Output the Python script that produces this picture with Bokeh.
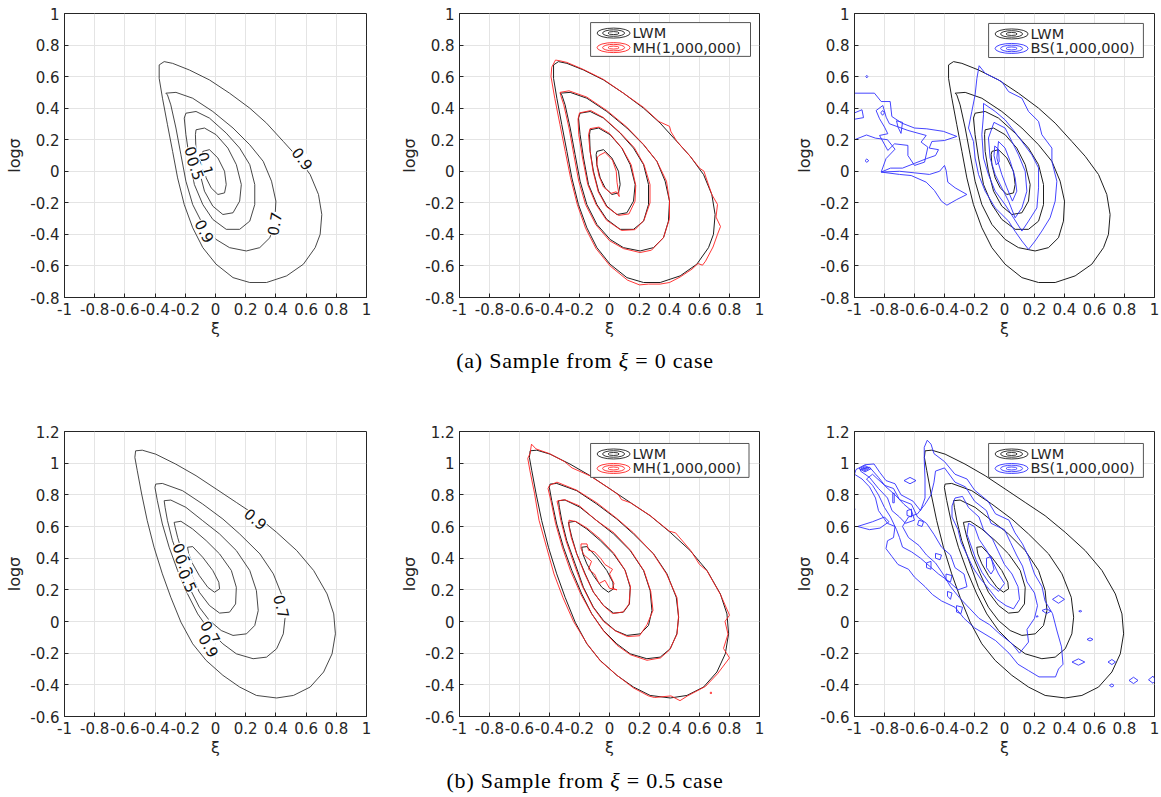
from bokeh.plotting import figure
from bokeh.layouts import row, column
from bokeh.models import FixedTicker, Label, Div
from bokeh.embed import file_html
from bokeh.resources import INLINE
from bokeh.core.properties import value

# ---------------- ticks ----------------
x_ticks = [-1, -0.8, -0.6, -0.4, -0.2, 0, 0.2, 0.4, 0.6, 0.8, 1]
x_tick_labels = ["-1", "-0.8", "-0.6", "-0.4", "-0.2", "0", "0.2", "0.4", "0.6", "0.8", "1"]
y_ticks_a = [-0.8, -0.6, -0.4, -0.2, 0, 0.2, 0.4, 0.6, 0.8, 1]
y_tick_labels_a = ["-0.8", "-0.6", "-0.4", "-0.2", "0", "0.2", "0.4", "0.6", "0.8", "1"]
y_ticks_b = [-0.6, -0.4, -0.2, 0, 0.2, 0.4, 0.6, 0.8, 1, 1.2]
y_tick_labels_b = ["-0.6", "-0.4", "-0.2", "0", "0.2", "0.4", "0.6", "0.8", "1", "1.2"]

captions = ["(a) Sample from <i>ξ</i> = 0 case", "(b) Sample from <i>ξ</i> = 0.5 case"]
legend_names = ["LWM", "MH(1,000,000)", "BS(1,000,000)"]

# ---------------- LWM contours, xi = 0 case (levels 0.9 .. 0.1) ----------------
lwm_a_09 = [(-0.373,0.674),(-0.34,0.695),(-0.284,0.684),(-0.173,0.642),(-0.04,0.579),(0.093,0.495),(0.227,0.40),(0.338,0.305),(0.449,0.189),(0.538,0.095),(0.627,-0.021),(0.682,-0.147),(0.704,-0.274),(0.693,-0.40),(0.66,-0.484),(0.582,-0.589),(0.471,-0.663),(0.338,-0.705),(0.227,-0.705),(0.116,-0.674),(0.004,-0.589),(-0.084,-0.484),(-0.151,-0.358),(-0.207,-0.211),(-0.251,-0.042),(-0.284,0.126),(-0.318,0.295),(-0.351,0.463),(-0.373,0.589)]
lwm_a_07 = [(-0.329,0.495),(-0.262,0.50),(-0.151,0.463),(-0.018,0.379),(0.116,0.274),(0.227,0.168),(0.316,0.063),(0.371,-0.063),(0.40,-0.189),(0.393,-0.316),(0.36,-0.421),(0.293,-0.484),(0.204,-0.505),(0.093,-0.484),(0.004,-0.432),(-0.084,-0.337),(-0.151,-0.211),(-0.196,-0.063),(-0.229,0.105),(-0.262,0.274),(-0.296,0.421),(-0.318,0.484)]
lwm_a_05 = [(-0.196,0.368),(-0.129,0.379),(-0.04,0.337),(0.071,0.242),(0.16,0.147),(0.227,0.042),(0.26,-0.084),(0.26,-0.211),(0.227,-0.316),(0.16,-0.368),(0.071,-0.368),(-0.018,-0.305),(-0.084,-0.211),(-0.14,-0.084),(-0.173,0.084),(-0.196,0.232),(-0.207,0.337)]
lwm_a_03 = [(-0.129,0.263),(-0.073,0.274),(0.004,0.232),(0.082,0.147),(0.138,0.042),(0.171,-0.084),(0.16,-0.189),(0.116,-0.263),(0.049,-0.274),(-0.018,-0.221),(-0.073,-0.126),(-0.107,0.0),(-0.129,0.126),(-0.133,0.232)]
lwm_a_01 = [(-0.084,0.126),(-0.04,0.137),(0.016,0.084),(0.06,0.0),(0.071,-0.084),(0.06,-0.137),(0.016,-0.147),(-0.029,-0.105),(-0.062,-0.042),(-0.084,0.042),(-0.089,0.105)]

# ---------------- LWM contours, xi = 0.5 case ----------------
lwm_b_09 = [(-0.529,1.078),(-0.485,1.082),(-0.396,1.057),(-0.263,0.994),(-0.129,0.921),(0.004,0.837),(0.138,0.752),(0.271,0.668),(0.405,0.563),(0.538,0.448),(0.65,0.322),(0.739,0.174),(0.783,0.048),(0.794,-0.078),(0.772,-0.204),(0.716,-0.319),(0.627,-0.414),(0.516,-0.467),(0.405,-0.483),(0.271,-0.467),(0.16,-0.414),(0.049,-0.34),(-0.062,-0.246),(-0.151,-0.141),(-0.229,-0.004),(-0.296,0.153),(-0.352,0.301),(-0.407,0.469),(-0.452,0.637),(-0.489,0.805),(-0.518,0.952),(-0.534,1.036)]
lwm_b_07 = [(-0.396,0.868),(-0.352,0.872),(-0.218,0.826),(-0.085,0.742),(0.049,0.647),(0.16,0.553),(0.294,0.427),(0.383,0.301),(0.445,0.153),(0.461,0.027),(0.449,-0.078),(0.405,-0.172),(0.338,-0.225),(0.249,-0.235),(0.138,-0.204),(0.049,-0.141),(-0.04,-0.057),(-0.118,0.048),(-0.185,0.174),(-0.251,0.322),(-0.307,0.469),(-0.352,0.616),(-0.385,0.763),(-0.401,0.847)]
lwm_b_05 = [(-0.34,0.763),(-0.296,0.767),(-0.196,0.721),(-0.085,0.637),(0.027,0.553),(0.138,0.448),(0.227,0.322),(0.271,0.195),(0.283,0.069),(0.26,-0.025),(0.205,-0.078),(0.116,-0.088),(0.038,-0.057),(-0.04,0.006),(-0.107,0.09),(-0.174,0.216),(-0.229,0.364),(-0.285,0.511),(-0.318,0.637),(-0.334,0.721)]
lwm_b_03 = [(-0.274,0.626),(-0.229,0.633),(-0.151,0.584),(-0.062,0.511),(0.027,0.427),(0.105,0.322),(0.138,0.216),(0.133,0.111),(0.093,0.059),(0.027,0.053),(-0.04,0.101),(-0.107,0.185),(-0.162,0.301),(-0.218,0.427),(-0.251,0.532),(-0.267,0.595)]
lwm_b_01 = [(-0.185,0.469),(-0.151,0.473),(-0.085,0.406),(-0.018,0.322),(0.022,0.248),(0.027,0.206),(-0.007,0.185),(-0.051,0.216),(-0.107,0.29),(-0.151,0.364),(-0.178,0.427)]

# ---------------- MH(1,000,000) contours ----------------
mh_a_09 = [(-0.385,0.66),(-0.36,0.705),(-0.33,0.70),(-0.284,0.69),(-0.173,0.645),(-0.04,0.582),(0.093,0.495),(0.227,0.405),(0.33,0.315),(0.40,0.285),(0.41,0.25),(0.449,0.19),(0.538,0.095),(0.60,0.02),(0.63,0.0),(0.64,-0.03),(0.682,-0.147),(0.72,-0.21),(0.71,-0.29),(0.74,-0.35),(0.72,-0.40),(0.69,-0.48),(0.64,-0.57),(0.62,-0.595),(0.59,-0.585),(0.55,-0.62),(0.471,-0.67),(0.40,-0.705),(0.338,-0.715),(0.26,-0.715),(0.20,-0.72),(0.12,-0.69),(0.004,-0.60),(-0.09,-0.49),(-0.16,-0.36),(-0.215,-0.21),(-0.26,-0.04),(-0.295,0.126),(-0.33,0.295),(-0.365,0.463),(-0.39,0.60)]
mh_a_07 = [(-0.33,0.50),(-0.27,0.51),(-0.151,0.47),(-0.018,0.385),(0.116,0.28),(0.227,0.17),(0.316,0.063),(0.38,-0.063),(0.40,-0.189),(0.40,-0.30),(0.36,-0.42),(0.28,-0.50),(0.204,-0.515),(0.093,-0.49),(0.0,-0.44),(-0.09,-0.34),(-0.16,-0.21),(-0.205,-0.063),(-0.238,0.105),(-0.27,0.274),(-0.305,0.421),(-0.325,0.48)]
mh_a_05 = [(-0.20,0.37),(-0.125,0.385),(-0.04,0.34),(0.071,0.245),(0.165,0.15),(0.23,0.042),(0.27,-0.084),(0.27,-0.20),(0.23,-0.31),(0.17,-0.37),(0.08,-0.375),(-0.02,-0.31),(-0.09,-0.21),(-0.145,-0.084),(-0.18,0.084),(-0.205,0.232),(-0.21,0.33)]
mh_a_03 = [(-0.13,0.27),(-0.07,0.28),(0.0,0.24),(0.085,0.145),(0.145,0.04),(0.175,-0.09),(0.17,-0.19),(0.13,-0.27),(0.06,-0.28),(-0.02,-0.225),(-0.075,-0.13),(-0.11,0.0),(-0.13,0.13),(-0.14,0.23)]
mh_a_01 = [(-0.07,0.10),(-0.03,0.12),(0.02,0.07),(0.045,0.0),(0.05,-0.07),(0.065,-0.16),(0.045,-0.13),(0.01,-0.14),(-0.04,-0.10),(-0.07,-0.03),(-0.085,0.04),(-0.08,0.09)]

mh_b_09 = [(-0.53,1.06),(-0.52,1.12),(-0.49,1.09),(-0.40,1.06),(-0.30,1.01),(-0.25,0.97),(-0.13,0.92),(0.00,0.84),(0.06,0.80),(0.08,0.77),(0.14,0.75),(0.27,0.67),(0.40,0.57),(0.44,0.56),(0.54,0.45),(0.60,0.36),(0.65,0.32),(0.74,0.17),(0.80,0.04),(0.77,0.00),(0.79,-0.08),(0.76,-0.17),(0.80,-0.23),(0.72,-0.33),(0.64,-0.41),(0.52,-0.47),(0.47,-0.50),(0.41,-0.47),(0.30,-0.48),(0.26,-0.47),(0.16,-0.42),(0.05,-0.34),(-0.06,-0.25),(-0.15,-0.14),(-0.24,0.00),(-0.31,0.15),(-0.37,0.30),(-0.42,0.47),(-0.47,0.64),(-0.50,0.81),(-0.53,0.95),(-0.545,1.03)]
mh_b_07 = [(-0.40,0.86),(-0.35,0.88),(-0.22,0.83),(-0.085,0.75),(0.05,0.65),(0.16,0.56),(0.29,0.43),(0.38,0.30),(0.45,0.15),(0.46,0.03),(0.45,-0.08),(0.40,-0.18),(0.34,-0.23),(0.25,-0.245),(0.14,-0.21),(0.05,-0.15),(-0.04,-0.06),(-0.12,0.05),(-0.19,0.17),(-0.26,0.32),(-0.315,0.47),(-0.36,0.62),(-0.39,0.76),(-0.41,0.84)]
mh_b_05 = [(-0.35,0.76),(-0.30,0.77),(-0.20,0.73),(-0.09,0.64),(0.03,0.56),(0.14,0.45),(0.23,0.32),(0.275,0.19),(0.29,0.07),(0.25,-0.02),(0.20,-0.09),(0.12,-0.095),(0.04,-0.06),(-0.04,0.0),(-0.11,0.09),(-0.18,0.22),(-0.235,0.36),(-0.29,0.51),(-0.325,0.64),(-0.34,0.72)]
mh_b_03 = [(-0.27,0.64),(-0.22,0.63),(-0.15,0.59),(-0.06,0.52),(0.03,0.43),(0.10,0.33),(0.14,0.22),(0.13,0.11),(0.09,0.06),(0.02,0.05),(-0.04,0.10),(-0.11,0.19),(-0.165,0.30),(-0.22,0.43),(-0.255,0.53),(-0.27,0.60)]
mh_b_01 = [(-0.19,0.49),(-0.15,0.49),(-0.14,0.45),(-0.10,0.44),(-0.06,0.40),(-0.03,0.36),(0.02,0.33),(0.0,0.30),(0.03,0.24),(0.02,0.21),(0.05,0.20),(0.0,0.21),(-0.03,0.26),(-0.07,0.24),(-0.10,0.30),(-0.14,0.33),(-0.12,0.38),(-0.17,0.42),(-0.19,0.46)]
mh_b_dot = [(0.672,-0.447),(0.68,-0.447),(0.68,-0.455),(0.672,-0.455)]

# ---------------- BS(1,000,000) contours, xi = 0 case ----------------
bs_a_tail = [(-1.0,0.495),(-0.867,0.495),(-0.822,0.442),(-0.762,0.442),(-0.751,0.347),(-0.684,0.305),(-0.60,0.274),(-0.518,0.269),(-0.407,0.253),(-0.318,0.221),(-0.40,0.195),(-0.484,0.189),(-0.502,0.147),(-0.44,0.137),(-0.46,0.10),(-0.52,0.08),(-0.60,0.05),(-0.68,0.02),(-0.76,0.02),(-0.822,-0.005),(-0.79,0.08),(-0.73,0.14),(-0.78,0.20),(-0.86,0.21),(-0.92,0.23),(-1.0,0.20)]
bs_a_tail_low = [(-0.822,-0.005),(-0.70,-0.02),(-0.622,-0.027),(-0.522,-0.069),(-0.467,-0.122),(-0.42,-0.19),(-0.384,-0.215),(-0.318,-0.179),(-0.251,-0.147),(-0.329,-0.105),(-0.378,-0.069),(-0.389,0.005),(-0.40,0.037),(-0.433,0.0),(-0.50,-0.02),(-0.60,-0.01),(-0.70,0.0)]
bs_a_tail_in = [(-0.856,0.385),(-0.811,0.417),(-0.789,0.343),(-0.767,0.301),(-0.644,0.259),(-0.522,0.227),(-0.556,0.185),(-0.511,0.153),(-0.533,0.058),(-0.60,0.037),(-0.644,0.10),(-0.644,0.164),(-0.733,0.174),(-0.778,0.132),(-0.833,0.227),(-0.778,0.238),(-0.80,0.28),(-0.833,0.333)]
bs_a_small1 = [(-0.925,0.60),(-0.918,0.608),(-0.911,0.60),(-0.918,0.592)]
bs_a_small2 = [(-0.93,0.067),(-0.918,0.078),(-0.905,0.067),(-0.918,0.057)]
bs_a_small3 = [(-0.825,0.37),(-0.813,0.385),(-0.80,0.37),(-0.813,0.355)]
bs_a_small4 = [(-0.72,0.32),(-0.68,0.31),(-0.69,0.24),(-0.71,0.28)]
bs_a_small5 = [(-1.0,0.37),(-0.95,0.39),(-0.94,0.34),(-1.0,0.33)]
bs_a_main1 = [(-0.169,0.669),(-0.129,0.621),(-0.018,0.568),(0.027,0.505),(0.116,0.463),(0.16,0.379),(0.227,0.316),(0.249,0.232),(0.316,0.147),(0.316,0.063),(0.349,-0.063),(0.338,-0.189),(0.304,-0.295),(0.249,-0.379),(0.204,-0.442),(0.16,-0.495),(0.116,-0.442),(0.07,-0.38),(0.027,-0.316),(-0.062,-0.232),(-0.129,-0.126),(-0.173,-0.021),(-0.196,0.084),(-0.207,0.189),(-0.24,0.274),(-0.218,0.379),(-0.196,0.484),(-0.184,0.589)]
bs_a_main2 = [(-0.14,0.43),(-0.062,0.379),(0.004,0.326),(0.06,0.26),(0.116,0.189),(0.182,0.105),(0.227,0.021),(0.227,-0.105),(0.216,-0.232),(0.16,-0.316),(0.116,-0.379),(0.06,-0.295),(0.004,-0.211),(-0.062,-0.126),(-0.107,-0.021),(-0.14,0.084),(-0.151,0.232),(-0.14,0.358)]
bs_a_main3 = [(-0.07,0.31),(0.004,0.274),(0.049,0.189),(0.093,0.105),(0.138,0.0),(0.149,-0.126),(0.116,-0.232),(0.071,-0.295),(0.027,-0.189),(-0.018,-0.105),(-0.062,-0.021),(-0.096,0.084),(-0.107,0.211)]
bs_a_main4 = [(-0.04,0.189),(0.004,0.147),(0.038,0.063),(0.071,-0.042),(0.082,-0.126),(0.053,-0.189),(0.016,-0.105),(-0.018,-0.021),(-0.051,0.084)]
bs_a_main5 = [(-0.065,0.16),(-0.04,0.14),(-0.035,0.06),(-0.055,0.04),(-0.07,0.10)]

# ---------------- BS(1,000,000) contours, xi = 0.5 case ----------------
bs_b_outer = [(-0.99,0.96),(-0.93,0.99),(-0.87,0.995),(-0.83,0.94),(-0.79,0.89),(-0.73,0.87),(-0.69,0.80),(-0.61,0.76),(-0.56,0.70),(-0.53,0.78),(-0.53,0.90),(-0.535,1.02),(-0.535,1.10),(-0.515,1.145),(-0.49,1.12),(-0.47,1.06),(-0.40,1.01),(-0.33,0.93),(-0.25,0.90),(-0.20,0.83),(-0.11,0.76),(-0.06,0.68),(0.03,0.64),(0.07,0.56),(0.12,0.49),(0.16,0.41),(0.20,0.30),(0.25,0.22),(0.27,0.13),(0.32,0.05),(0.35,-0.06),(0.38,-0.16),(0.39,-0.27),(0.36,-0.30),(0.34,-0.35),(0.23,-0.35),(0.16,-0.31),(0.09,-0.27),(0.03,-0.20),(-0.06,-0.12),(-0.13,-0.08),(-0.20,-0.04),(-0.27,0.02),(-0.33,0.09),(-0.42,0.13),(-0.48,0.17),(-0.53,0.22),(-0.60,0.28),(-0.64,0.33),(-0.71,0.36),(-0.75,0.41),(-0.79,0.46),(-0.78,0.51),(-0.74,0.53),(-0.73,0.60),(-0.78,0.62),(-0.84,0.70),(-0.86,0.78),(-0.90,0.85),(-0.95,0.90),(-1.0,0.93)]
bs_b_band = [(-0.96,0.96),(-0.90,0.975),(-0.84,0.91),(-0.79,0.85),(-0.73,0.80),(-0.67,0.74),(-0.62,0.70),(-0.60,0.64),(-0.66,0.62),(-0.70,0.66),(-0.75,0.70),(-0.78,0.78),(-0.84,0.84),(-0.90,0.91),(-0.96,0.95)]
bs_b_band2 = [(-0.88,0.93),(-0.80,0.86),(-0.74,0.84),(-0.70,0.77),(-0.62,0.74),(-0.58,0.66),(-0.52,0.62),(-0.47,0.55),(-0.42,0.47),(-0.36,0.42),(-0.33,0.34),(-0.27,0.30),(-0.25,0.22),(-0.31,0.20),(-0.38,0.26),(-0.44,0.30),(-0.50,0.35),(-0.56,0.40),(-0.62,0.44),(-0.68,0.47),(-0.70,0.53),(-0.72,0.58),(-0.76,0.66),(-0.80,0.72),(-0.84,0.80),(-0.88,0.86),(-0.92,0.90)]
bs_b_tip1 = [(-0.97,0.965),(-0.93,0.985),(-0.89,0.965),(-0.93,0.945)]
bs_b_tip2 = [(-0.955,0.965),(-0.93,0.977),(-0.905,0.965),(-0.93,0.953)]
bs_b_tip3 = [(-0.94,0.965),(-0.93,0.97),(-0.92,0.965),(-0.93,0.96)]
bs_b_r2 = [(-0.46,0.95),(-0.40,0.97),(-0.33,0.88),(-0.26,0.85),(-0.20,0.76),(-0.12,0.70),(-0.09,0.62),(0.00,0.58),(0.04,0.50),(0.08,0.42),(0.12,0.35),(0.15,0.25),(0.20,0.18),(0.22,0.10),(0.20,0.02),(0.15,-0.05),(0.16,-0.13),(0.10,-0.20),(0.05,-0.14),(-0.03,-0.08),(-0.10,-0.02),(-0.17,0.02),(-0.23,0.08),(-0.30,0.15),(-0.36,0.22),(-0.41,0.30),(-0.46,0.37),(-0.52,0.42),(-0.57,0.48),(-0.64,0.53),(-0.68,0.60),(-0.64,0.66),(-0.58,0.68),(-0.53,0.74),(-0.49,0.80),(-0.47,0.88)]
bs_b_r3 = [(-0.33,0.78),(-0.28,0.79),(-0.24,0.72),(-0.17,0.66),(-0.14,0.58),(-0.08,0.52),(-0.04,0.44),(0.00,0.36),(0.05,0.30),(0.09,0.22),(0.10,0.14),(0.06,0.08),(0.01,0.10),(-0.05,0.14),(-0.10,0.20),(-0.16,0.27),(-0.21,0.34),(-0.25,0.42),(-0.29,0.50),(-0.31,0.58),(-0.35,0.66),(-0.35,0.73)]
bs_b_r4 = [(-0.24,0.62),(-0.20,0.60),(-0.17,0.52),(-0.12,0.45),(-0.08,0.38),(-0.04,0.30),(0.0,0.24),(-0.04,0.19),(-0.10,0.24),(-0.15,0.31),(-0.19,0.39),(-0.22,0.47),(-0.25,0.55)]
bs_b_r5 = [(-0.12,0.40),(-0.09,0.41),(-0.07,0.33),(-0.09,0.30),(-0.12,0.34)]
bs_b_isl = [
    [(-0.67,0.89),(-0.63,0.91),(-0.59,0.89),(-0.63,0.87)],
    [(-0.745,0.81),(-0.735,0.81),(-0.735,0.75),(-0.745,0.75)],
    [(-0.98,0.60),(-0.88,0.63),(-0.80,0.66),(-0.77,0.63),(-0.83,0.59),(-0.90,0.58)],
    [(-0.65,0.70),(-0.62,0.71),(-0.62,0.66),(-0.65,0.67)],
    [(-0.57,0.64),(-0.54,0.63),(-0.55,0.60),(-0.58,0.61)],
    [(-0.46,0.43),(-0.42,0.42),(-0.43,0.39),(-0.46,0.40)],
    [(-0.52,0.37),(-0.49,0.38),(-0.49,0.33),(-0.52,0.34)],
    [(-0.39,0.30),(-0.35,0.29),(-0.36,0.25),(-0.39,0.26)],
    [(-0.38,0.19),(-0.35,0.18),(-0.36,0.14),(-0.38,0.16)],
    [(-0.32,0.10),(-0.28,0.09),(-0.29,0.05),(-0.32,0.06)],
    [(0.32,0.14),(0.36,0.165),(0.40,0.14),(0.36,0.115)],
    [(0.25,0.07),(0.28,0.08),(0.31,0.065),(0.28,0.05)],
    [(0.495,0.065),(0.505,0.07),(0.515,0.065),(0.505,0.06)],
    [(0.55,-0.113),(0.57,-0.103),(0.59,-0.113),(0.57,-0.123)],
    [(0.45,-0.256),(0.493,-0.236),(0.535,-0.256),(0.493,-0.276)],
    [(0.69,-0.256),(0.716,-0.24),(0.74,-0.256),(0.716,-0.272)],
    [(0.70,-0.404),(0.716,-0.394),(0.73,-0.404),(0.716,-0.414)],
    [(0.83,-0.372),(0.86,-0.352),(0.89,-0.372),(0.86,-0.392)],
    [(0.96,-0.368),(0.99,-0.345),(1.0,-0.36),(1.0,-0.38),(0.99,-0.39)],
    [(0.21,0.032),(0.22,0.036),(0.225,0.032),(0.215,0.028)],
    [(-1.0,0.715),(-0.995,0.71),(-1.0,0.705)],
]

# ---------------- style ----------------
FONT = "DejaVu Sans"
AXIS_COL = "#262626"
GRID_COL = "#e4e4e4"
BLACK = "#1e1e1e"
RED = "#ff2020"
BLUE = "#3030ff"
FW = [302, 300, 300]
LEFT = 64
RIGHT = [29, 31, 7]
BOTTOM = 48


def make_fig(i, y_ticks, y_labels, y_range, top, fh):
    p = figure(frame_width=FW[i], frame_height=fh, x_range=(-1, 1), y_range=y_range,
               min_border_left=LEFT, min_border_right=RIGHT[i], min_border_top=top,
               min_border_bottom=BOTTOM, output_backend="svg", toolbar_location=None,
               background_fill_color="white", border_fill_color="white")
    p.xaxis.ticker = FixedTicker(ticks=x_ticks)
    p.xaxis.major_label_overrides = {t: l for t, l in zip(x_ticks, x_tick_labels)}
    p.yaxis.ticker = FixedTicker(ticks=y_ticks)
    p.yaxis.major_label_overrides = {t: l for t, l in zip(y_ticks, y_labels)}
    p.xaxis.axis_label = "ξ"
    p.yaxis.axis_label = "logσ"
    for ax in (p.xaxis, p.yaxis):
        ax.axis_label_text_font = FONT
        ax.axis_label_text_font_size = "16px"
        ax.axis_label_text_font_style = "normal"
        ax.axis_label_text_color = AXIS_COL
        ax.major_label_text_font = FONT
        ax.major_label_text_font_size = "15px"
        ax.major_label_text_color = AXIS_COL
        ax.axis_line_color = AXIS_COL
        ax.major_tick_line_color = AXIS_COL
        ax.major_tick_in = 4
        ax.major_tick_out = 0
        ax.minor_tick_line_color = None
    p.xaxis.major_label_standoff = 5
    p.yaxis.major_label_standoff = 5
    p.xaxis.axis_label_standoff = 1
    p.yaxis.axis_label_standoff = 3
    p.grid.grid_line_color = GRID_COL
    p.grid.grid_line_width = 1
    p.outline_line_color = AXIS_COL
    p.outline_line_alpha = 1
    return p


def draw(p, contours, color, width=1.0):
    xs = [[pt[0] for pt in c] + [c[0][0]] for c in contours]
    ys = [[pt[1] for pt in c] + [c[0][1]] for c in contours]
    p.multi_line(xs=xs, ys=ys, line_color=color, line_width=width)


def legend(p, y_range, fx0, fx1, fy0, fy1, fh, fw, name, color):
    yr = y_range[1] - y_range[0]
    x0 = -1 + 2 * fx0
    x1 = -1 + 2 * fx1
    ytop = y_range[1] - yr * fy0
    ybot = y_range[1] - yr * fy1
    p.quad(left=[x0], right=[x1], top=[ytop], bottom=[ybot], fill_color="white",
           line_color="#555555", line_width=1)
    dx = 2.0 / fw
    dy = yr / fh
    cx = x0 + 23 * dx
    rows = [ytop - 10.5 * dy, ytop - 25 * dy]
    for yy, col in zip(rows, [BLACK, color]):
        for w, h in [(33, 10), (22, 6.5), (11, 3)]:
            p.ellipse(x=[cx], y=[yy], width=w, height=h, width_units="screen",
                      height_units="screen", fill_color=None, line_color=col, line_width=0.9)
    p.text(x=[x0 + 42 * dx, x0 + 42 * dx], y=rows, text=[legend_names[0], name],
           text_font=value(FONT), text_font_size="14.5px", text_color=AXIS_COL,
           text_baseline="middle", text_align="left")


def clabel(p, x, y, txt, ang):
    p.add_layout(Label(x=x, y=y, text=txt, angle=ang, angle_units="deg",
                       text_font=FONT, text_font_size="15px", text_color="#111111",
                       text_align="center", text_baseline="middle",
                       background_fill_color="white"))


lwm_a = [lwm_a_09, lwm_a_07, lwm_a_05, lwm_a_03, lwm_a_01]
lwm_b = [lwm_b_09, lwm_b_07, lwm_b_05, lwm_b_03, lwm_b_01]
mh_a = [mh_a_09, mh_a_07, mh_a_05, mh_a_03, mh_a_01]
mh_b = [mh_b_09, mh_b_07, mh_b_05, mh_b_03, mh_b_01, mh_b_dot]
bs_a = [bs_a_tail, bs_a_tail_low, bs_a_tail_in, bs_a_small1, bs_a_small2, bs_a_small3,
        bs_a_small4, bs_a_small5, bs_a_main1, bs_a_main2, bs_a_main3, bs_a_main4, bs_a_main5]
bs_b = [bs_b_outer, bs_b_band, bs_b_band2, bs_b_tip1, bs_b_tip2, bs_b_tip3, bs_b_r2,
        bs_b_r3, bs_b_r4, bs_b_r5] + bs_b_isl

YA = (-0.8, 1.0)
YB = (-0.6, 1.2)
FH_A, FH_B = 284, 285

# top row (xi = 0)
p1 = make_fig(0, y_ticks_a, y_tick_labels_a, YA, 13, FH_A)
draw(p1, lwm_a, "#333333", 0.9)
clabel(p1, 0.577, 0.08, "0.9", -53)
clabel(p1, 0.389, -0.333, "0.7", 80)
clabel(p1, -0.071, -0.379, "0.9", -62)
clabel(p1, -0.064, 0.048, "0.1", -75)
clabel(p1, -0.145, 0.085, "0.3", -70)
clabel(p1, -0.13, 0.02, "0.5", -70)

p2 = make_fig(1, y_ticks_a, y_tick_labels_a, YA, 13, FH_A)
draw(p2, lwm_a, BLACK, 1.0)
draw(p2, mh_a, RED, 0.9)
legend(p2, YA, 0.437, 0.97, 0.032, 0.151, FH_A, FW[1], legend_names[1], RED)

p3 = make_fig(2, y_ticks_a, y_tick_labels_a, YA, 13, FH_A)
draw(p3, lwm_a, BLACK, 1.0)
draw(p3, bs_a, BLUE, 0.9)
legend(p3, YA, 0.447, 0.963, 0.035, 0.155, FH_A, FW[2], legend_names[2], BLUE)

# bottom row (xi = 0.5)
p4 = make_fig(0, y_ticks_b, y_tick_labels_b, YB, 29, FH_B)
draw(p4, lwm_b, "#333333", 0.9)
clabel(p4, 0.266, 0.648, "0.9", -40)
clabel(p4, 0.439, 0.095, "0.7", -75)
clabel(p4, -0.219, 0.423, "0.1", -65)
clabel(p4, -0.204, 0.354, "0.3", -65)
clabel(p4, -0.182, 0.259, "0.5", -65)
clabel(p4, -0.032, -0.067, "0.7", -60)
clabel(p4, -0.043, -0.152, "0.9", -60)

p5 = make_fig(1, y_ticks_b, y_tick_labels_b, YB, 29, FH_B)
draw(p5, lwm_b, BLACK, 1.0)
draw(p5, mh_b, RED, 0.9)
legend(p5, YB, 0.437, 0.965, 0.042, 0.161, FH_B, FW[1], legend_names[1], RED)

p6 = make_fig(2, y_ticks_b, y_tick_labels_b, YB, 29, FH_B)
draw(p6, lwm_b, BLACK, 1.0)
draw(p6, bs_b, BLUE, 0.9)
legend(p6, YB, 0.447, 0.963, 0.042, 0.161, FH_B, FW[2], legend_names[2], BLUE)


def caption(txt, h, pad):
    html = ('<div style="width:1161px;text-align:center;font-family:\'Liberation Serif\';'
            'font-size:22px;line-height:26px;letter-spacing:0.8px;color:#000;'
            'padding-top:%dpx;padding-left:9px;box-sizing:border-box;">%s</div>' % (pad, txt))
    return Div(text=html, width=1161, height=h, margin=0)


layout = column(row(p1, p2, p3), caption(captions[0], 57, 3),
                row(p4, p5, p6), caption(captions[1], 33, 4))

open("out.html", "w").write(file_html(layout, INLINE))
